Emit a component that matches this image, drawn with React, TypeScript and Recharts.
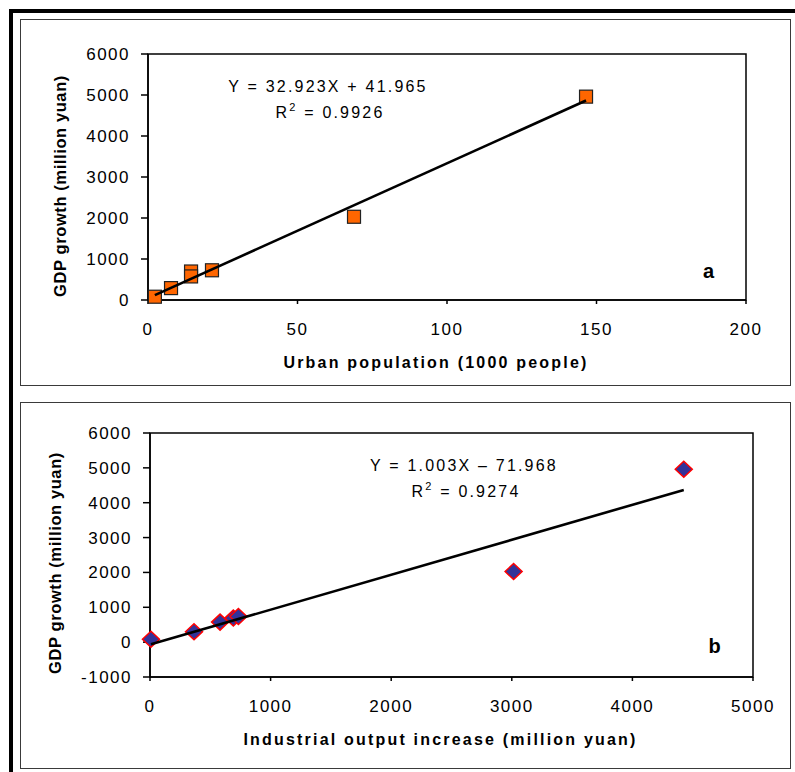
import React from "react";
import { ScatterChart, Scatter, XAxis, YAxis, ReferenceArea } from "recharts";

// Seven regions: the same GDP growth plotted against two drivers
const urbanPopulation = [2.3, 7.7, 14.4, 14.4, 21.4, 68.9, 146.5]; // 1000 people
const industrialOutput = [8, 365, 581, 691, 733, 3015, 4426]; // million yuan
const gdpGrowthA = [80, 290, 695, 575, 725, 2030, 4960]; // million yuan
const gdpGrowthB = [85, 300, 575, 690, 735, 2025, 4962];

const fitA = { slope: 32.923, intercept: 41.965, r2: "0.9926" };
const fitB = { slope: 1.003, intercept: -71.968, r2: "0.9274" };

const xTicksA = [0, 50, 100, 150, 200];
const yTicksA = [0, 1000, 2000, 3000, 4000, 5000, 6000];
const xTicksB = [0, 1000, 2000, 3000, 4000, 5000];
const yTicksB = [-1000, 0, 1000, 2000, 3000, 4000, 5000, 6000];

const FONT = "'Liberation Sans', Arial, Helvetica, sans-serif";
const tickStyle = { fontSize: 17, fill: "#000", fontFamily: FONT, letterSpacing: 1.5 };
const axisStroke = { stroke: "#000", strokeWidth: 1.5 };

type Pt = { x: number; y: number };

function zip(xs: number[], ys: number[]): Pt[] {
  return xs.map((x, i) => ({ x, y: ys[i] }));
}

function trend(xs: number[], fit: { slope: number; intercept: number }): Pt[] {
  const lo = Math.min(...xs);
  const hi = Math.max(...xs);
  return [lo, hi].map((x) => ({ x, y: fit.slope * x + fit.intercept }));
}

const Square = (p: any) => (
  <rect x={p.cx - 6.5} y={p.cy - 6.5} width={13} height={13} fill="#FF6600" stroke="#222" strokeWidth={1.2} />
);

const Diamond = (p: any) => (
  <polygon
    points={`${p.cx},${p.cy - 8} ${p.cx + 8.5},${p.cy} ${p.cx},${p.cy + 8} ${p.cx - 8.5},${p.cy}`}
    fill="#333399"
    stroke="#FF0000"
    strokeWidth={1.5}
  />
);

const NoDot = () => <g />;

const YTitle = ({ viewBox, value, fromPlot, shift }: any) => {
  const cx = viewBox.x + viewBox.width - fromPlot;
  const cy = viewBox.y + viewBox.height / 2 + shift;
  return (
    <text
      x={cx}
      y={cy}
      transform={`rotate(-90 ${cx} ${cy})`}
      textAnchor="middle"
      dominantBaseline="central"
      fontFamily={FONT}
      fontWeight="bold"
      fontSize={16.5}
      letterSpacing={0.6}
      fill="#000"
    >
      {value}
    </text>
  );
};

const XTitle = ({ viewBox, value }: any) => (
  <text
    x={viewBox.x + viewBox.width / 2 - 11}
    y={viewBox.y + 68}
    textAnchor="middle"
    fontFamily={FONT}
    fontWeight="bold"
    fontSize={16}
    letterSpacing={2.2}
    fill="#000"
  >
    {value}
  </text>
);

function Frame({ top }: { top: number }) {
  return (
    <div
      style={{
        position: "absolute",
        left: 20,
        top,
        width: 771,
        height: 367,
        border: "1.5px solid #3a3a3a",
        boxSizing: "border-box",
      }}
    />
  );
}

function Note({ x, y, eq, r2, letter, lx, ly }: any) {
  return (
    <g fontFamily={FONT} fill="#000">
      <text x={x} y={y} textAnchor="middle" fontSize={16} letterSpacing={2.2}>
        {eq}
      </text>
      <text x={x + 2} y={y + 26} textAnchor="middle" fontSize={16} letterSpacing={2.2}>
        R<tspan dy={-7} fontSize={11}>2</tspan>
        <tspan dy={7}>{` = ${r2}`}</tspan>
      </text>
      <text x={lx} y={ly} textAnchor="middle" fontSize={20} fontWeight="bold">
        {letter}
      </text>
    </g>
  );
}

export default function App() {
  const dataA = zip(urbanPopulation, gdpGrowthA);
  const dataB = zip(industrialOutput, gdpGrowthB);

  return (
    <div
      style={{
        position: "absolute",
        left: 0,
        top: 0,
        width: 795,
        height: 772,
        overflow: "hidden",
        background: "#fff",
        fontFamily: FONT,
      }}
    >
      {/* heavy outer rule, top and left */}
      <div style={{ position: "absolute", left: 9, top: 9, width: 786, height: 4, background: "#000" }} />
      <div style={{ position: "absolute", left: 9, top: 9, width: 4, height: 763, background: "#000" }} />
      <Frame top={18.5} />
      <Frame top={402} />

      <div style={{ position: "absolute", left: 0, top: 0 }}>
        <ScatterChart width={795} height={400} margin={{ top: 54, right: 49, bottom: 40, left: 88 }}>
          <XAxis
            type="number"
            dataKey="x"
            domain={[0, 200]}
            ticks={xTicksA}
            tick={tickStyle}
            tickSize={4}
            tickMargin={19}
            axisLine={axisStroke}
            tickLine={axisStroke}
            height={60}
            label={<XTitle value="Urban population (1000 people)" />}
          />
          <YAxis
            type="number"
            dataKey="y"
            domain={[0, 6000]}
            ticks={yTicksA}
            tick={tickStyle}
            tickSize={7}
            tickMargin={11}
            axisLine={axisStroke}
            tickLine={axisStroke}
            width={60}
            label={<YTitle value="GDP growth (million yuan)" fromPlot={88} shift={9} />}
          />
          <ReferenceArea x1={0} x2={200} y1={0} y2={6000} fill="none" stroke="#000" strokeWidth={1.5} />
          <Scatter data={dataA} shape={Square} isAnimationActive={false} />
          <Scatter
            data={trend(urbanPopulation, fitA)}
            line={{ stroke: "#000", strokeWidth: 2.6 }}
            shape={NoDot}
            isAnimationActive={false}
          />
        </ScatterChart>
      </div>

      <div style={{ position: "absolute", left: 0, top: 390 }}>
        <ScatterChart width={795} height={390} margin={{ top: 43, right: 42, bottom: 43, left: 90 }}>
          <XAxis
            type="number"
            dataKey="x"
            domain={[0, 5000]}
            ticks={xTicksB}
            tick={tickStyle}
            tickSize={4}
            tickMargin={19}
            axisLine={axisStroke}
            tickLine={axisStroke}
            height={60}
            label={<XTitle value="Industrial output increase (million yuan)" />}
          />
          <YAxis
            type="number"
            dataKey="y"
            domain={[-1000, 6000]}
            ticks={yTicksB}
            tick={tickStyle}
            tickSize={7}
            tickMargin={11}
            axisLine={axisStroke}
            tickLine={axisStroke}
            width={60}
            label={<YTitle value="GDP growth (million yuan)" fromPlot={95} shift={8} />}
          />
          <ReferenceArea x1={0} x2={5000} y1={-1000} y2={6000} fill="none" stroke="#000" strokeWidth={1.5} />
          <Scatter data={dataB} shape={Diamond} isAnimationActive={false} />
          <Scatter
            data={trend(industrialOutput, fitB)}
            line={{ stroke: "#000", strokeWidth: 2.6 }}
            shape={NoDot}
            isAnimationActive={false}
          />
        </ScatterChart>
      </div>

      <svg width={795} height={772} style={{ position: "absolute", left: 0, top: 0, pointerEvents: "none" }}>
        <Note x={328} y={92} eq="Y = 32.923X + 41.965" r2={fitA.r2} letter="a" lx={708.5} ly={278} />
        <Note x={464} y={471} eq="Y = 1.003X – 71.968" r2={fitB.r2} letter="b" lx={714.5} ly={653} />
      </svg>
    </div>
  );
}
